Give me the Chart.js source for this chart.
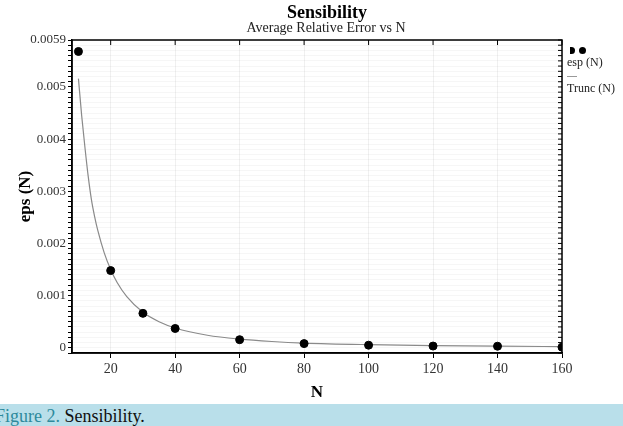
<!DOCTYPE html>
<html>
<head>
<meta charset="utf-8">
<script src="https://cdn.jsdelivr.net/npm/chart.js@4/dist/chart.umd.min.js"></script>
<style>
  body { margin: 0; background: #fff; font-family: "Liberation Serif", serif; }
  #wrap { position: relative; width: 623px; height: 426px; overflow: hidden; }
  #chartBox { position: absolute; left: 0; top: 0; width: 623px; height: 404px; }
  .legend { position: absolute; left: 567px; font-size: 12px; color: #222; }
  .dot { display: inline-block; width: 7px; height: 7px; border-radius: 50%; background: #000; margin-right: 4px; }
  #caption { position: absolute; left: 0; top: 404px; width: 623px; height: 22px; background: #b9dfea;
             font-size: 18px; line-height: 24px; color: #111; white-space: nowrap; }
  #caption b { color: #2d8a9c; font-weight: normal; }
</style>
</head>
<body>
<div id="wrap">
  <div id="chartBox"><canvas id="sensChart"></canvas></div>
  <div class="legend" style="top:43px; left:570px;"><span class="dot" style="width:5px; border-radius:0 4px 4px 0;"></span><span class="dot"></span></div>
  <div class="legend" style="top:55px;">esp (N)</div>
  <div class="legend" style="top:76px; width:10px; border-top:1px solid #999; height:0;"></div>
  <div class="legend" style="top:81px;">Trunc (N)</div>
  <div id="caption"><b style="margin-left:-5px">Figure 2.</b> Sensibility.</div>
</div>
<script>
// --- Data ---
const nValues = [10, 20, 30, 40, 60, 80, 100, 120, 140, 160];
const espValues = [0.00568, 0.00148, 0.00066, 0.00037, 0.000155, 0.00008, 0.00005, 0.000033, 0.00003, 0.000012];

// fitted curve Trunc (N), sampled by eye
const truncN = [10, 11, 12, 13, 14, 15, 16, 18, 20, 22, 25, 30, 35, 40, 50, 60, 70, 80, 100, 120, 140, 160];
const truncValues = [0.00516, 0.00445, 0.00385, 0.0033, 0.00285, 0.00252, 0.00225, 0.00182, 0.0015, 0.00125,
                     0.00098, 0.00068, 0.0005, 0.00038, 0.00024, 0.000165, 0.00012, 0.00009, 0.00006, 0.000042,
                     0.00003, 0.000022];

// axis ticks
const xTicks = [20, 40, 60, 80, 100, 120, 140, 160];
const yMajorTicks = [0, 0.001, 0.002, 0.003, 0.004, 0.005, 0.0059];
const yTickLabels = ['0', '0.001', '0.002', '0.003', '0.004', '0.005', '0.0059'];

const chartTitle = 'Sensibility';
const chartSubtitle = 'Average Relative Error vs N';

const serif = '"Liberation Serif", "Times New Roman", serif';

// titles sit a bit right of the canvas centre in the original
const titlePlugin = {
    id: 'titles',
    afterDraw(chart) {
        const c = chart.ctx;
        c.save();
        c.textAlign = 'center';
        c.textBaseline = 'middle';
        c.fillStyle = '#000';
        c.font = 'bold 18px ' + serif;
        c.fillText(chartTitle, 327, 13);
        c.fillStyle = '#222';
        c.font = '14px ' + serif;
        c.fillText(chartSubtitle, 326, 28);
        c.restore();
    }
};

// frame + inward ticks on top/right axes
const framePlugin = {
    id: 'frame',
    afterDraw(chart) {
        const { ctx, chartArea: a, scales } = chart;
        ctx.save();
        ctx.strokeStyle = '#000';
        ctx.lineWidth = 1.5;
        ctx.strokeRect(a.left, a.top, a.right - a.left, a.bottom - a.top);
        ctx.lineWidth = 1;
        ctx.beginPath();
        xTicks.forEach(v => {
            const x = scales.x.getPixelForValue(v);
            ctx.moveTo(x, a.top);
            ctx.lineTo(x, a.top + 5);
        });
        scales.y.ticks.forEach(t => {
            const y = scales.y.getPixelForValue(t.value);
            ctx.moveTo(a.right, y);
            ctx.lineTo(a.right - 4, y);
        });
        ctx.stroke();
        ctx.restore();
    }
};

function isMajor(v) {
    return yMajorTicks.findIndex(m => Math.abs(m - v) < 1e-8);
}

const ctx = document.getElementById('sensChart').getContext('2d');
const sensChart = new Chart(ctx, {
    type: 'scatter',
    data: {
        datasets: [
            {
                label: 'esp (N)',
                data: nValues.map((n, i) => ({ x: n, y: espValues[i] })),
                backgroundColor: '#000',
                borderColor: '#000',
                pointRadius: 4,
                showLine: false,
                order: 0
            },
            {
                label: 'Trunc (N)',
                data: truncN.map((n, i) => ({ x: n, y: truncValues[i] })),
                borderColor: '#8a8a8a',
                borderWidth: 1.2,
                pointRadius: 0,
                showLine: true,
                cubicInterpolationMode: 'monotone',
                order: 1
            }
        ]
    },
    options: {
        responsive: true,
        maintainAspectRatio: false,
        animation: false,
        layout: { padding: { top: 40, right: 61, bottom: 0, left: 0 } },
        plugins: {
            legend: { display: false },
            tooltip: { enabled: false }
        },
        scales: {
            x: {
                type: 'linear',
                min: 8,
                max: 160,
                afterBuildTicks: s => { s.ticks = xTicks.map(v => ({ value: v })); },
                afterFit: s => { s.height = 51; },
                ticks: { color: '#333', font: { family: serif, size: 14 }, padding: 3, maxRotation: 0 },
                grid: { color: 'rgba(0,0,0,0.06)', tickColor: '#000', tickLength: 5 },
                border: { display: true, color: '#000', width: 1.5 },
                title: { display: true, text: 'N', color: '#000', font: { family: serif, size: 17, weight: 'bold' }, padding: { top: 0, bottom: 1 } }
            },
            y: {
                type: 'linear',
                min: -0.0001,
                max: 0.0059,
                afterFit: s => { s.width = 72; },
                ticks: {
                    stepSize: 0.0001,
                    autoSkip: false,
                    maxTicksLimit: 200,
                    color: '#333',
                    font: { family: serif, size: 13 },
                    padding: 2,
                    callback: v => { const i = isMajor(v); return i >= 0 ? yTickLabels[i] : ''; }
                },
                grid: {
                    color: 'rgba(0,0,0,0.035)',
                    tickColor: '#000',
                    tickLength: 4
                },
                border: { display: true, color: '#000', width: 1.5 },
                title: { display: true, text: 'eps (N)', color: '#000', font: { family: serif, size: 17, weight: 'bold' }, padding: { top: 15, bottom: 0 } }
            }
        }
    },
    plugins: [framePlugin, titlePlugin]
});
</script>
</body>
</html>
